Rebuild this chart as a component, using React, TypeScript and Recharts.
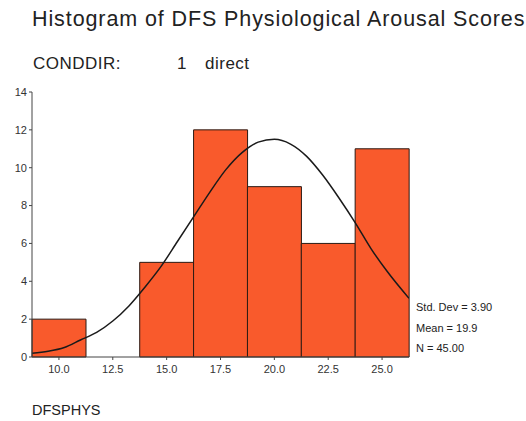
import React from "react";
import { Bar, ComposedChart, Line, XAxis, YAxis } from "recharts";

// histogram bins (midpoints) and counts
const binMids = [10, 12.5, 15, 17.5, 20, 22.5, 25];
const counts = [2, 0, 5, 12, 9, 6, 11];

// normal curve
const curveX = [8.75, 9.5, 10.25, 11, 11.75, 12.5, 13.25, 14, 14.75, 15.5, 16.25, 17, 17.75, 18.5, 19.25, 20, 20.75, 21.5, 22.25, 23, 23.75, 24.5, 25.25, 26.25];
const curveY = [0.2, 0.3, 0.5, 0.9, 1.3, 1.9, 2.7, 3.7, 4.8, 6.1, 7.4, 8.7, 9.9, 10.8, 11.35, 11.5, 11.25, 10.6, 9.6, 8.4, 7.1, 5.7, 4.5, 3.1];

const xTicks = [10, 12.5, 15, 17.5, 20, 22.5, 25];
const yTicks = [0, 2, 4, 6, 8, 10, 12, 14];

const title = "Histogram of DFS Physiological Arousal Scores";
const stats = ["Std. Dev = 3.90", "Mean = 19.9", "N = 45.00"];

const bins = binMids.map((m, i) => ({ mid: m, count: counts[i] }));
const curve = curveX.map((x, i) => ({ x, y: curveY[i] }));

const font = "'Liberation Sans', Arial, sans-serif";

export default function App() {
  return (
    <div style={{ position: "absolute", left: 0, top: 0, width: 526, height: 421, background: "#fff", fontFamily: font, color: "#222" }}>
      <div style={{ position: "absolute", left: 32, top: 7, fontSize: 21.5, letterSpacing: 0.9, whiteSpace: "nowrap" }}>{title}</div>
      <div style={{ position: "absolute", left: 33, top: 54, fontSize: 17, letterSpacing: 0.5 }}>CONDDIR:</div>
      <div style={{ position: "absolute", left: 177, top: 54, fontSize: 17 }}>1</div>
      <div style={{ position: "absolute", left: 205, top: 54, fontSize: 17, letterSpacing: 0.5 }}>direct</div>
      {stats.map((s, i) => (
        <div key={s} style={{ position: "absolute", left: 416, top: 301 + i * 20.5, fontSize: 11 }}>{s}</div>
      ))}
      <div style={{ position: "absolute", left: 32, top: 402, fontSize: 14.5 }}>DFSPHYS</div>

      <ComposedChart
        width={526}
        height={421}
        data={bins}
        barCategoryGap={0}
        margin={{ top: 92, right: 117, bottom: 44, left: 8 }}
      >
        <XAxis xAxisId="cat" dataKey="mid" hide height={0} />
        <XAxis
          xAxisId="num"
          type="number"
          dataKey="x"
          domain={[8.75, 26.25]}
          ticks={xTicks}
          tickFormatter={(v: number) => v.toFixed(1)}
          allowDataOverflow
          height={20}
          stroke="#444"
          tickSize={3}
          tick={{ fontSize: 11, fill: "#333", fontFamily: font, dy: 3 }}
        />
        <XAxis
          xAxisId="top"
          orientation="top"
          type="number"
          domain={[8.75, 26.25]}
          tick={false}
          tickLine={false}
          height={0}
          stroke="#777"
        />
        <YAxis
          domain={[0, 14]}
          ticks={yTicks}
          width={24}
          stroke="#444"
          tickSize={3}
          tick={{ fontSize: 11, fill: "#333", fontFamily: font }}
        />
        <YAxis yAxisId="right" orientation="right" tick={false} tickLine={false} width={0} stroke="#777" />
        <Bar xAxisId="cat" dataKey="count" fill="#f95a2c" stroke="#2a1a14" strokeWidth={1} isAnimationActive={false} />
        <Line
          xAxisId="num"
          data={curve}
          dataKey="y"
          type="monotone"
          stroke="#1a1a1a"
          strokeWidth={1.5}
          dot={false}
          isAnimationActive={false}
        />
      </ComposedChart>
    </div>
  );
}
